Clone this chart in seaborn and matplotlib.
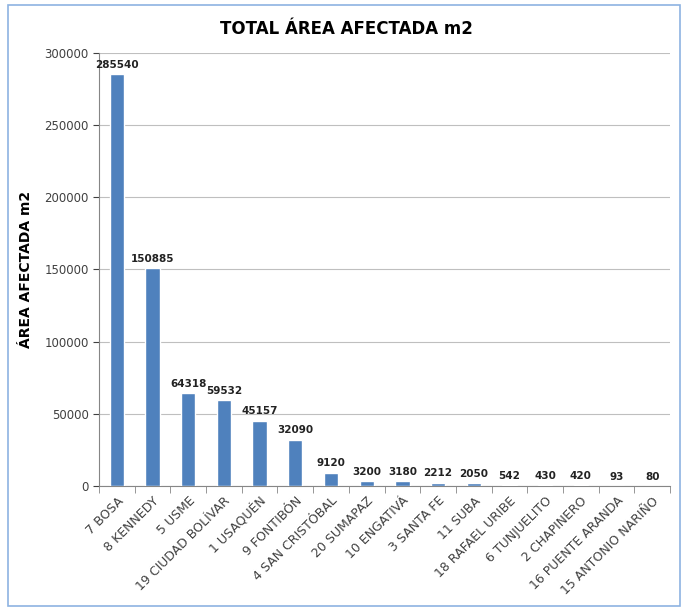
import matplotlib
matplotlib.use("Agg")
import matplotlib.pyplot as plt
from matplotlib.patches import Rectangle
import seaborn as sns
import pandas as pd

localidades = ["7 BOSA", "8 KENNEDY", "5 USME", "19 CIUDAD BOLÍVAR", "1 USAQUÉN",
               "9 FONTIBÓN", "4 SAN CRISTÓBAL", "20 SUMAPAZ", "10 ENGATIVÁ",
               "3 SANTA FE", "11 SUBA", "18 RAFAEL URIBE", "6 TUNJUELITO",
               "2 CHAPINERO", "16 PUENTE ARANDA", "15 ANTONIO NARIÑO"]
area = [285540, 150885, 64318, 59532, 45157, 32090, 9120, 3200, 3180,
        2212, 2050, 542, 430, 420, 93, 80]

df = pd.DataFrame({"localidad": localidades, "area": area})

sns.set_style("white")
plt.rcParams["font.family"] = ["DejaVu Sans"]

fig = plt.figure(figsize=(6.83, 6.09), dpi=100)
ax = fig.add_axes([0.145, 0.202, 0.836, 0.711])

sns.barplot(data=df, x="localidad", y="area", color="#4F81BD", width=0.4,
            saturation=1, ax=ax, zorder=3)

ax.set_ylim(0, 300000)
ax.set_yticks(range(0, 300001, 50000))
ax.yaxis.grid(True, color="#BFBFBF", linewidth=0.8, zorder=0)
ax.set_axisbelow(True)
for s in ["top", "right"]:
    ax.spines[s].set_visible(False)
ax.spines["left"].set_color("#868686")
ax.spines["bottom"].set_color("#868686")
ax.tick_params(axis="y", labelsize=8.5, colors="#404040", length=4, left=True)
ax.set_xticks(range(len(localidades)))
ax.set_xticklabels(localidades, rotation=45, ha="right", rotation_mode="anchor")
ax.tick_params(axis="x", which="major", labelsize=9, colors="#404040", length=0, pad=6)
# excel style tick marks between categories
ax.set_xticks([i + 0.5 for i in range(-1, len(localidades))], minor=True)
ax.tick_params(axis="x", which="minor", length=5, color="#868686", bottom=True)
ax.set_xlim(-0.5, len(localidades) - 0.5)

for i, v in enumerate(area):
    ax.text(i, v + 3000, str(v), ha="center", va="bottom",
            fontsize=7.5, fontweight="bold", color="#222222")

ax.set_xlabel("")
ax.set_ylabel("ÁREA AFECTADA m2", fontsize=10, fontweight="bold", labelpad=8, color="black")
fig.text(0.507, 0.953, "TOTAL ÁREA AFECTADA m2", ha="center", va="center",
         fontsize=12, fontweight="bold", color="black")

fig.patches.append(Rectangle((0.012, 0.005), 0.984, 0.987, transform=fig.transFigure,
                             fill=False, edgecolor="#8DB3E2", linewidth=1.2))

fig.savefig("out.png", dpi=100)
